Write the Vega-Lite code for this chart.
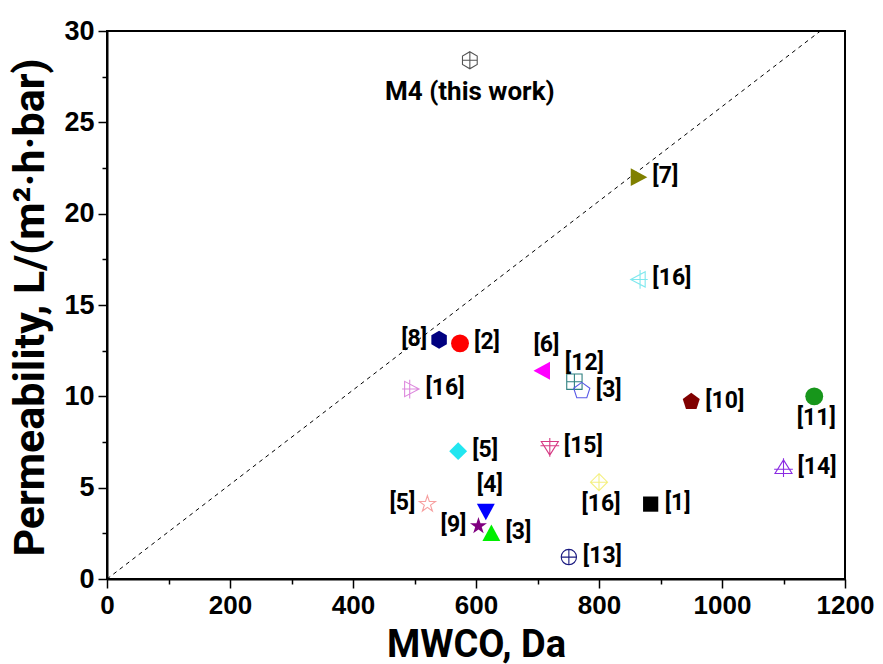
{
  "$schema": "https://vega.github.io/schema/vega-lite/v6.json",
  "width": 738,
  "height": 548,
  "autosize": {"type": "none"},
  "padding": {"left": 107, "top": 31, "right": 38, "bottom": 85},
  "background": "white",
  "config": {
    "view": {"stroke": "black", "strokeWidth": 2},
    "axis": {"grid": false, "domainColor": "black", "domainWidth": 2, "tickColor": "black", "tickWidth": 1.5, "labelColor": "black", "titleColor": "black"}
  },
  "datasets": {
    "pts": [
      {"id": "M4", "label": "M4 (this work)", "mwco": 590, "perm": 28.4},
      {"id": "r7", "label": "[7]", "mwco": 864, "perm": 22.0},
      {"id": "r16c", "label": "[16]", "mwco": 864, "perm": 16.4},
      {"id": "r8", "label": "[8]", "mwco": 540, "perm": 13.1},
      {"id": "r2", "label": "[2]", "mwco": 574, "perm": 12.9},
      {"id": "r6", "label": "[6]", "mwco": 708, "perm": 11.4},
      {"id": "r12", "label": "[12]", "mwco": 760, "perm": 10.8},
      {"id": "r3b", "label": "[3]", "mwco": 772, "perm": 10.3},
      {"id": "r16p", "label": "[16]", "mwco": 495, "perm": 10.4},
      {"id": "r10", "label": "[10]", "mwco": 950, "perm": 9.7},
      {"id": "r11", "label": "[11]", "mwco": 1150, "perm": 10.0},
      {"id": "r5d", "label": "[5]", "mwco": 571, "perm": 7.0},
      {"id": "r15", "label": "[15]", "mwco": 720, "perm": 7.2},
      {"id": "r14", "label": "[14]", "mwco": 1100, "perm": 6.1},
      {"id": "r16y", "label": "[16]", "mwco": 800, "perm": 5.3},
      {"id": "r1", "label": "[1]", "mwco": 884, "perm": 4.1},
      {"id": "r5s", "label": "[5]", "mwco": 521, "perm": 4.1},
      {"id": "r4", "label": "[4]", "mwco": 616, "perm": 3.7},
      {"id": "r9", "label": "[9]", "mwco": 604, "perm": 2.9},
      {"id": "r3g", "label": "[3]", "mwco": 625, "perm": 2.5},
      {"id": "r13", "label": "[13]", "mwco": 751, "perm": 1.2}
    ],
    "diag": [
      {"mwco": 0, "perm": 0},
      {"mwco": 1160, "perm": 30}
    ]
  },
  "encoding": {
    "x": {
      "field": "mwco", "type": "quantitative",
      "scale": {"domain": [0, 1200], "nice": false, "zero": false},
      "axis": {
        "title": "MWCO, Da",
        "values": [0, 100, 200, 300, 400, 500, 600, 700, 800, 900, 1000, 1100, 1200],
        "format": "d",
        "labelExpr": "datum.value % 200 === 0 ? datum.label : ''",
        "labelOverlap": false, "labelFlush": false, "labelBound": false,
        "tickSize": {"condition": {"test": "datum.value % 200 === 0", "value": 9}, "value": 5},
        "labelPadding": 4,
        "labelFont": "Liberation Sans", "labelFontWeight": "bold", "labelFontSize": 26,
        "titleFont": "Roboto", "titleFontWeight": "bold", "titleFontSize": 38,
        "titleX": 369, "titleY": 66, "titleBaseline": "middle", "titleAlign": "center"
      }
    },
    "y": {
      "field": "perm", "type": "quantitative",
      "scale": {"domain": [0, 30], "nice": false, "zero": false},
      "axis": {
        "title": "Permeability, L/(m²·h·bar)",
        "values": [0, 2.5, 5, 7.5, 10, 12.5, 15, 17.5, 20, 22.5, 25, 27.5, 30],
        "labelExpr": "datum.value % 5 === 0 ? datum.label : ''",
        "labelOverlap": false, "labelFlush": false, "labelBound": false,
        "tickSize": {"condition": {"test": "datum.value % 5 === 0", "value": 9}, "value": 5},
        "labelPadding": 4,
        "labelFont": "Liberation Sans", "labelFontWeight": "bold", "labelFontSize": 27,
        "titleFont": "Roboto", "titleFontWeight": "bold", "titleFontSize": 43,
        "titleX": -77, "titleY": 276, "titleBaseline": "middle", "titleAlign": "center", "titleAngle": -90
      }
    }
  },
  "layer": [
    {
      "data": {"name": "diag"},
      "mark": {"type": "line", "color": "black", "strokeWidth": 1, "strokeDash": [4, 4]},
      "encoding": {}
    },
    {
      "data": {"name": "pts"},
      "transform": [{"filter": {"field": "id", "oneOf": ["M4", "r16c", "r12", "r3b", "r16p", "r15", "r14", "r16y", "r5s", "r13"]}}],
      "mark": {"type": "point", "filled": false, "strokeWidth": 1.1, "size": 290, "opacity": 1},
      "encoding": {
        "shape": {"field": "id", "type": "nominal", "legend": null, "scale": {
          "domain": ["M4", "r16c", "r12", "r3b", "r16p", "r15", "r14", "r16y", "r5s", "r13", "r7", "r8", "r2", "r6", "r10", "r11", "r5d", "r1", "r4", "r9", "r3g"],
          "range": [
            "M0,-1L0.866,-0.5L0.866,0.5L0,1L-0.866,0.5L-0.866,-0.5ZM0,-1L0,1M-0.866,0L0.866,0",
            "M0.8,-0.9L-0.9,0L0.8,0.9ZM0.2,-1.1V1.1M1.1,0H-0.9",
            "M-0.9,-0.9H0.9V0.9H-0.9ZM0,-0.9V0.9M-0.9,0H0.9",
            "M0,-1L0.951,-0.309L0.588,0.809L-0.588,0.809L-0.951,-0.309Z",
            "M-0.8,-0.9L0.9,0L-0.8,0.9ZM-0.2,-1.1V1.1M-1.1,0H0.9",
            "M-1,-0.7H1L0,0.9ZM0,-1.1V1.1M-1.1,-0.2H1.1",
            "M0,-0.9L1,0.7H-1ZM0,-1.1V1.1M-1.1,0.2H1.1",
            "M0,-1L1,0L0,1L-1,0ZM0,-1V1M-1,0H1",
            "M0,-1L0.2245,-0.309L0.951,-0.309L0.3633,0.118L0.588,0.809L0,0.382L-0.588,0.809L-0.3633,0.118L-0.951,-0.309L-0.2245,-0.309Z",
            "M-0.9,0A0.9,0.9 0 1,0 0.9,0A0.9,0.9 0 1,0 -0.9,0ZM0,-0.9V0.9M-0.9,0H0.9",
            "M-0.85,-1L1,0L-0.85,1Z",
            "M0,-1L0.866,-0.5L0.866,0.5L0,1L-0.866,0.5L-0.866,-0.5Z",
            "circle",
            "M0.85,-1L-1,0L0.85,1Z",
            "M0,-1L0.951,-0.309L0.588,0.809L-0.588,0.809L-0.951,-0.309Z",
            "circle",
            "M0,-1L1,0L0,1L-1,0Z",
            "M-0.85,-0.85H0.85V0.85H-0.85Z",
            "M-1,-0.85H1L0,1Z",
            "M0,-1L0.2245,-0.309L0.951,-0.309L0.3633,0.118L0.588,0.809L0,0.382L-0.588,0.809L-0.3633,0.118L-0.951,-0.309L-0.2245,-0.309Z",
            "M0,-1L1,0.85H-1Z"
          ]}},
        "color": {"field": "id", "type": "nominal", "legend": null, "scale": {
          "domain": ["M4", "r16c", "r12", "r3b", "r16p", "r15", "r14", "r16y", "r5s", "r13", "r7", "r8", "r2", "r6", "r10", "r11", "r5d", "r1", "r4", "r9", "r3g"],
          "range": ["#555555", "#7fe8ee", "#2f8080", "#5a5ae6", "#dd88dd", "#d63b84", "#8a2be2", "#f4f080", "#f7a0a0", "#1a1a80",
                    "#808000", "#000080", "#ff0000", "#ff00ff", "#800000", "#17961b", "#22e6f0", "#000000", "#0000ff", "#800080", "#00ee00"]}}
      }
    },
    {
      "data": {"name": "pts"},
      "transform": [{"filter": {"field": "id", "oneOf": ["r7", "r8", "r2", "r6", "r10", "r11", "r5d", "r1", "r4", "r9", "r3g"]}}],
      "mark": {"type": "point", "filled": true, "size": 320, "opacity": 1},
      "encoding": {
        "shape": {"field": "id", "type": "nominal", "legend": null},
        "color": {"field": "id", "type": "nominal", "legend": null}
      }
    },
    {
      "data": {"name": "pts"},
      "transform": [{"filter": {"field": "id", "oneOf": ["r7", "r16c", "r2", "r3b", "r16p", "r10", "r14", "r1", "r15", "r5d", "r3g", "r13"]}}],
      "mark": {"type": "text", "align": "left", "baseline": "middle", "dx": 14, "dy": -1, "font": "Roboto", "fontWeight": "bold", "fontSize": 23, "color": "black"},
      "encoding": {"text": {"field": "label"}}
    },
    {
      "data": {"name": "pts"},
      "transform": [{"filter": {"field": "id", "oneOf": ["r8", "r5s", "r9"]}}],
      "mark": {"type": "text", "align": "right", "baseline": "middle", "dx": -12, "dy": -1, "font": "Roboto", "fontWeight": "bold", "fontSize": 23, "color": "black"},
      "encoding": {"text": {"field": "label"}}
    },
    {
      "data": {"name": "pts"},
      "transform": [{"filter": {"field": "id", "oneOf": ["r6", "r4"]}}],
      "mark": {"type": "text", "align": "center", "baseline": "middle", "dx": 4, "dy": -26, "font": "Roboto", "fontWeight": "bold", "fontSize": 23, "color": "black"},
      "encoding": {"text": {"field": "label"}}
    },
    {
      "data": {"name": "pts"},
      "transform": [{"filter": {"field": "id", "oneOf": ["r12"]}}],
      "mark": {"type": "text", "align": "center", "baseline": "middle", "dx": 10, "dy": -19, "font": "Roboto", "fontWeight": "bold", "fontSize": 23, "color": "black"},
      "encoding": {"text": {"field": "label"}}
    },
    {
      "data": {"name": "pts"},
      "transform": [{"filter": {"field": "id", "oneOf": ["r11", "r16y"]}}],
      "mark": {"type": "text", "align": "center", "baseline": "middle", "dx": 2, "dy": 22, "font": "Roboto", "fontWeight": "bold", "fontSize": 23, "color": "black"},
      "encoding": {"text": {"field": "label"}}
    },
    {
      "data": {"name": "pts"},
      "transform": [{"filter": {"field": "id", "oneOf": ["M4"]}}],
      "mark": {"type": "text", "align": "center", "baseline": "middle", "dx": 0, "dy": 32, "font": "Roboto", "fontWeight": "bold", "fontSize": 26, "color": "black"},
      "encoding": {"text": {"field": "label"}}
    }
  ]
}
